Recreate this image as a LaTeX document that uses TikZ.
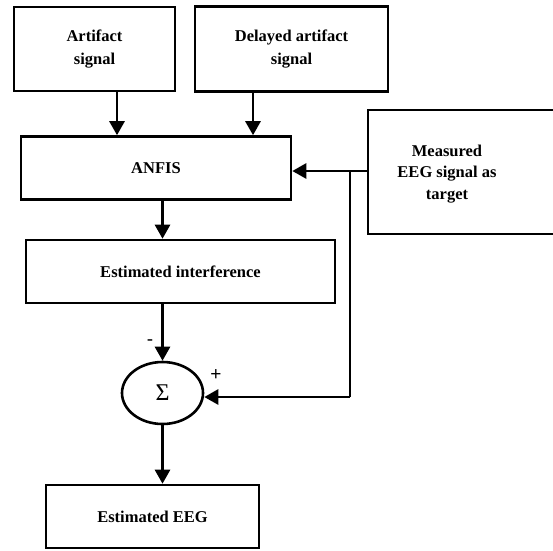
\documentclass[tikz,border=0pt]{standalone}
\usepackage{fontspec}
\setmainfont{Liberation Serif}
\newfontfamily\signfont{Liberation Sans}
\usetikzlibrary{arrows.meta,shapes.geometric}
\tikzset{
  box/.style={draw, line width=2.6pt, rectangle, inner sep=0pt, align=center, font=\bfseries\fontsize{16.5}{22.5}\selectfont},
  lbl/.style={inner sep=0pt, align=center, font=\bfseries\fontsize{16.5}{21.5}\selectfont},
  conn/.style={line width=2.8pt},
  arr/.style={conn, -{Triangle[length=14pt,width=15pt]}},
  sign/.style={inner sep=0pt, font=\signfont\fontsize{19}{19}\selectfont}
}
\begin{document}
\begin{tikzpicture}[x=1pt,y=-1pt]
\useasboundingbox (0,0) rectangle (553,550);
\node[box, minimum width=161pt, minimum height=84pt] (art) at (94.5,49) {Artifact\\signal};
\node[box, minimum width=193pt, minimum height=85pt] (del) at (291.5,49) {Delayed artifact\\signal};
\node[box, minimum width=270pt, minimum height=63pt] (anfis) at (156,168) {ANFIS};
\node[box, minimum width=192pt, minimum height=124pt] (meas) at (464,172) {};
\node[lbl] (meastext) at (447,174) {Measured\\EEG signal as\\target};
\node[box, minimum width=309pt, minimum height=63pt] (est) at (180.5,271.5) {Estimated interference};
\node[draw, line width=2.6pt, ellipse, minimum width=81pt, minimum height=62pt, inner sep=0pt, font=\fontsize{24}{24}\selectfont] (sig) at (162.5,393) {Σ};
\node[box, minimum width=213pt, minimum height=63pt] (eeg) at (152.5,516.5) {Estimated EEG};
\coordinate (j) at (350,171);
\coordinate (j2) at (350,397);
\draw[arr] (art.south -| 117,0) -- (anfis.north -| 117,0);
\draw[arr] (del.south -| 253,0) -- (anfis.north -| 253,0);
\draw[arr] (meas.west |- j) -- (anfis.east |- j);
\draw[arr] (anfis.south -| sig.north) -- (est.north -| sig.north);
\draw[arr] (est.south -| sig.north) -- (sig.north);
\draw[conn] (j) -- (j2);
\draw[arr] (j2) -- (sig.east |- j2);
\draw[arr] (sig.south) -- (eeg.north -| sig.south);
\node[sign] (minus) at (150,343) {-};
\node[sign] (plus) at (216,375) {+};
\end{tikzpicture}
\end{document}
